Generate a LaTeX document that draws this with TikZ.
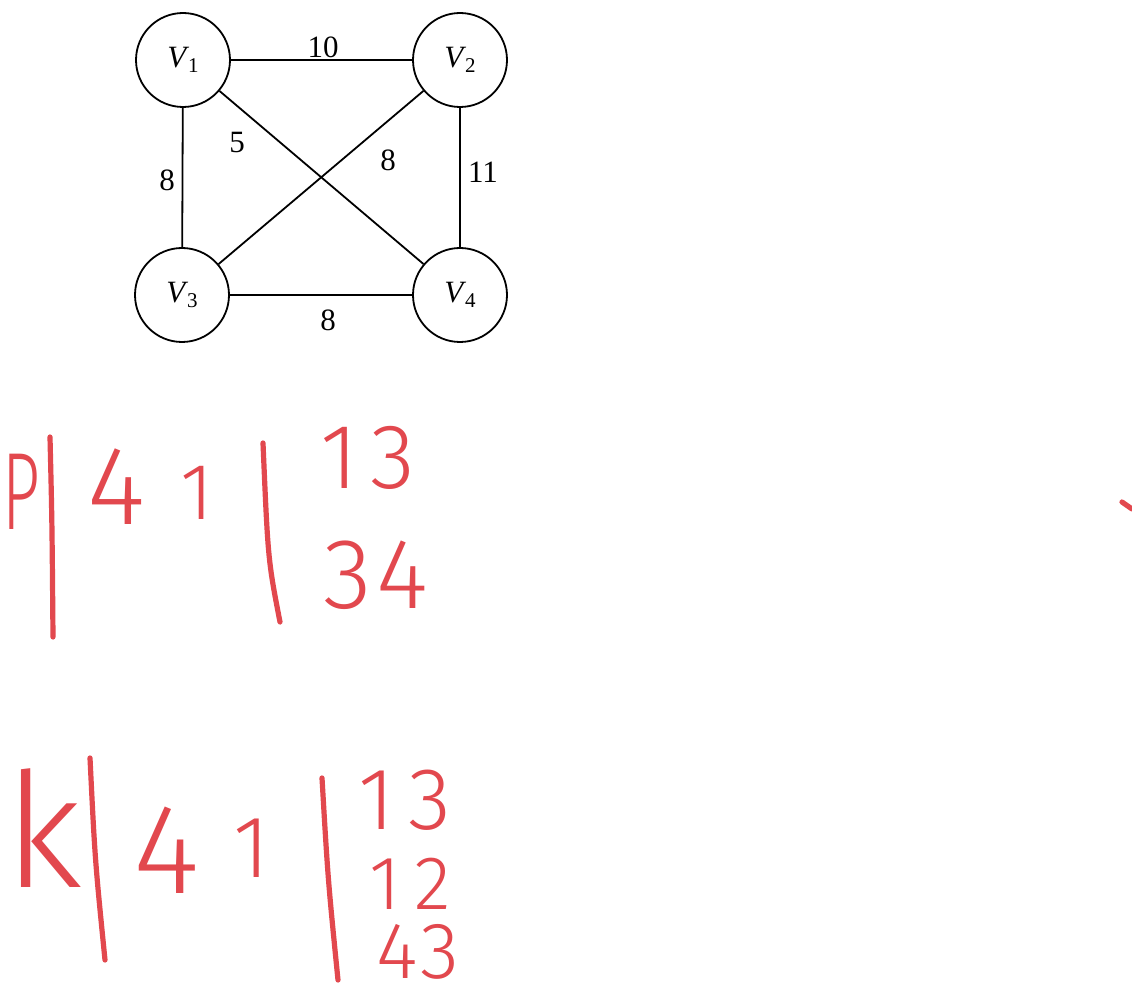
\documentclass[tikz,border=0pt]{standalone}
\usepackage{fontspec}
\setmainfont{Liberation Serif}
\newfontfamily\handfont{Fira Sans Light}
\definecolor{ink}{RGB}{226,72,78}
\newcommand{\vlab}[1]{\textit{V}\kern-0.5pt\raisebox{-0.4ex}{\fontsize{10.5}{10.5}\selectfont #1}}
\begin{document}
\begin{tikzpicture}[x=0.5pt,y=-0.5pt,
  vertex/.style={circle,draw,line width=0.9pt,minimum size=47pt,inner sep=0pt,font=\fontsize{15.5}{18}\selectfont},
  edge/.style={line width=0.9pt},
  wt/.style={font=\fontsize{15.5}{18}\selectfont,inner sep=0pt},
  hw/.style={text=ink,inner sep=0pt,font=\handfont\fontsize{#1}{#1}\selectfont},
  inkstroke/.style={draw=ink,line width=2.6pt,line cap=round}]
\fill[white] (0,0) rectangle (1132,1000);
\useasboundingbox (0,0) rectangle (1132,1000);
% graph
\node[vertex] (v1) at (183,60) {\vlab{1}};
\node[vertex] (v2) at (460,60) {\vlab{2}};
\node[vertex] (v3) at (182,295) {\vlab{3}};
\node[vertex] (v4) at (460,295) {\vlab{4}};
\draw[edge] (v1) -- (v2);
\draw[edge] (v3) -- (v4);
\draw[edge] (v1) -- (v3);
\draw[edge] (v2) -- (v4);
\draw[edge] (v1) -- (v4);
\draw[edge] (v2) -- (v3);
\node[wt] (w12) at (323,47) {10};
\node[wt] (w14) at (237,143) {5};
\node[wt] (w23) at (388,160) {8};
\node[wt] (w24) at (483,172) {11};
\node[wt] (w13) at (167,180) {8};
\node[wt] (w34) at (328,320) {8};
% handwritten row 1
\node[hw=55] (p) at (21,492) {\scalebox{0.6}[1]{P}};
\coordinate (a1) at (50,437);
\coordinate (a2) at (53,637);
\draw[inkstroke] (a1) .. controls (52,520) .. (a2);
\node[hw=56] (p4) at (117,487) {4};
\node[hw=40] (p1) at (197,493) {1};
\coordinate (b1) at (263,443);
\coordinate (b2) at (280,622);
\draw[inkstroke] (b1) .. controls (268,560) .. (b2);
\node[hw=46] (p13) at (368,458) {1\kern6pt3};
\node[hw=50] (p34) at (376,575) {3\kern2pt4};
% handwritten row 2
\node[hw=80] (k) at (44,828) {k};
\coordinate (c1) at (90,758);
\coordinate (c2) at (105,960);
\draw[inkstroke] (c1) .. controls (95,860) .. (c2);
\node[hw=64] (k4) at (167,850) {4};
\node[hw=44] (k1) at (252,848) {1};
\coordinate (d1) at (322,778);
\coordinate (d2) at (338,980);
\draw[inkstroke] (d1) .. controls (328,880) .. (d2);
\node[hw=44] (k13) at (405,800) {1\kern7pt3};
\node[hw=38] (k12) at (410,884) {1\kern7pt2};
\node[hw=40] (k43) at (418,952) {4\kern1pt3};
% stray mark at right edge
\coordinate (e1) at (1122,502);
\coordinate (e2) at (1132,509);
\draw[inkstroke] (e1) -- (e2);
\end{tikzpicture}
\end{document}
